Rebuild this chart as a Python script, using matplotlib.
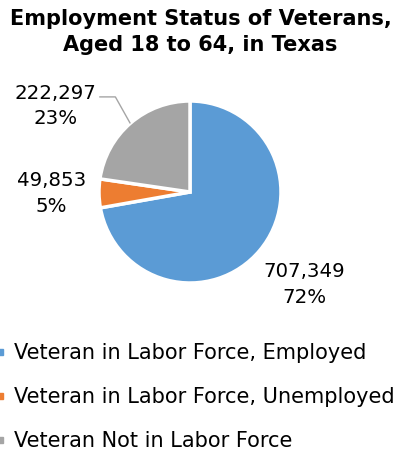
import matplotlib.pyplot as plt
from matplotlib.lines import Line2D

categories = ["Veteran in Labor Force, Employed",
              "Veteran in Labor Force, Unemployed",
              "Veteran Not in Labor Force"]
counts = [707349, 49853, 222297]
colors = ["#5B9BD5", "#ED7D31", "#A5A5A5"]

plt.rcParams["font.family"] = "DejaVu Sans"

W, H = 401, 453
fig = plt.figure(figsize=(W / 100, H / 100), dpi=100)

fig.text(0.5, 1 - 32 / H, "Employment Status of Veterans,\nAged 18 to 64, in Texas",
         ha="center", va="center", fontsize=15, fontweight="bold", linespacing=1.32)

# pie centred at (190, 192) px, radius 91 px
cx, cy, r = 190, 192, 91
ax = fig.add_axes([(cx - r) / W, (H - cy - r) / H, 2 * r / W, 2 * r / H])
ax.pie(counts, colors=colors, startangle=90, counterclock=False,
       wedgeprops=dict(edgecolor="white", linewidth=2.5))
ax.set_xlim(-1, 1)
ax.set_ylim(-1, 1)
ax.axis("off")

total = sum(counts)
label_pos = [(1.26, -1.02), (-1.52, -0.02), (-1.48, 0.945)]
for val, (lx, ly) in zip(counts, label_pos):
    ax.text(lx, ly, f"{val:,}\n{round(val / total * 100)}%", ha="center", va="center",
            fontsize=14.2, linespacing=1.45)

# leader line for the grey slice
ax.plot([-0.99, -0.82, -0.66], [1.045, 1.045, 0.76], color="#A5A5A5",
        linewidth=1, clip_on=False)

handles = [Line2D([], [], marker="s", linestyle="none", markersize=4,
                  markerfacecolor=c, markeredgecolor=c) for c in colors]
fig.legend(handles, categories, loc="upper left", bbox_to_anchor=(-0.012, 1 - 343 / H),
           frameon=False, fontsize=15, handlelength=0.5, handletextpad=0.4,
           labelspacing=1.15, borderaxespad=0, borderpad=0)

fig.savefig("out.png", dpi=100)
